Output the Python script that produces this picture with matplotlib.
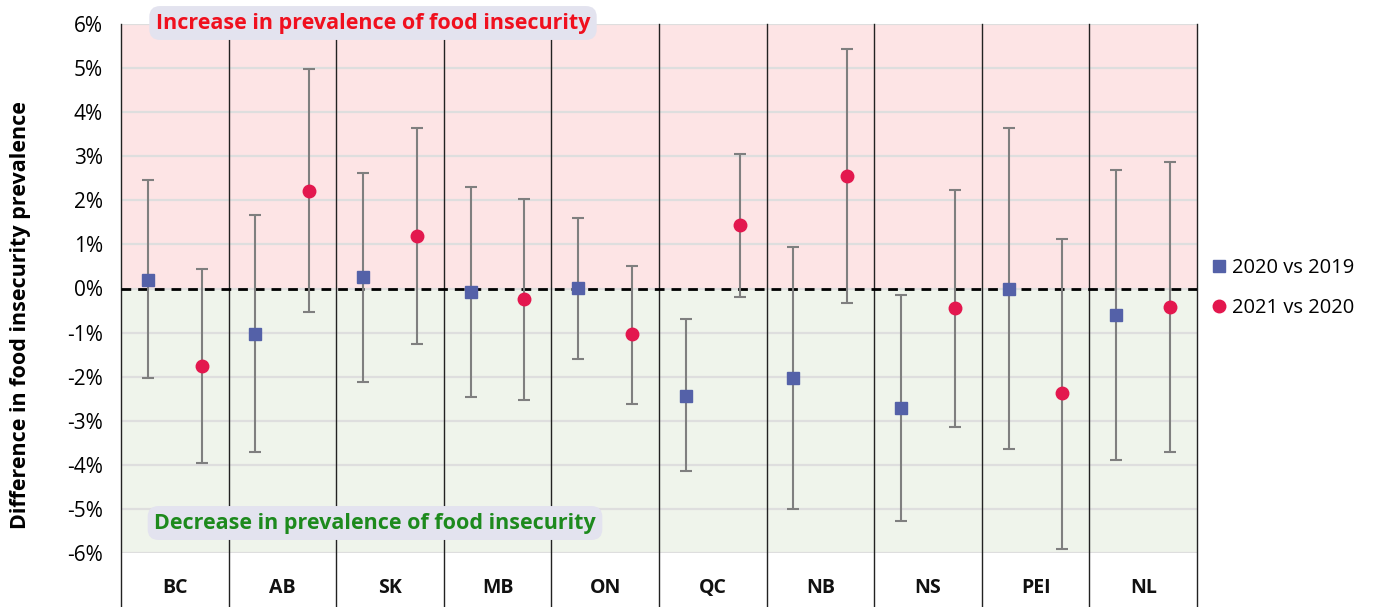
import matplotlib.pyplot as plt
from matplotlib.lines import Line2D
from matplotlib.transforms import blended_transform_factory
import numpy as np

plt.rcParams['font.family'] = ['Open Sans', 'DejaVu Sans']

provinces = ['BC', 'AB', 'SK', 'MB', 'ON', 'QC', 'NB', 'NS', 'PEI', 'NL']
# 2020 vs 2019
diff_2020 = [0.20, -1.04, 0.27, -0.09, 0.02, -2.43, -2.04, -2.70, -0.02, -0.61]
low_2020 = [-2.04, -3.72, -2.11, -2.47, -1.59, -4.15, -5.01, -5.28, -3.65, -3.90]
high_2020 = [2.47, 1.66, 2.63, 2.31, 1.61, -0.70, 0.95, -0.14, 3.63, 2.68]
# 2021 vs 2020
diff_2021 = [-1.75, 2.22, 1.18, -0.23, -1.04, 1.43, 2.56, -0.45, -2.38, -0.43]
low_2021 = [-3.95, -0.54, -1.25, -2.52, -2.63, -0.20, -0.32, -3.15, -5.92, -3.72]
high_2021 = [0.45, 4.99, 3.63, 2.04, 0.52, 3.06, 5.44, 2.24, 1.13, 2.86]

blue = '#5461a8'
red = '#e3174e'
grey = '#7f7f7f'

fig = plt.figure(figsize=(13.77, 6.07), dpi=100)
ax = fig.add_axes([121 / 1377, 54 / 607, (1197 - 121) / 1377, 529 / 607])

n = len(provinces)
x = np.arange(n)
ax.set_xlim(-0.5, n - 0.5)
ax.set_ylim(-6, 6)

ax.axhspan(0, 6, color='#fde4e5', zorder=0)
ax.axhspan(-6, 0, color='#eff4eb', zorder=0)
for v in range(-6, 7):
    ax.axhline(v, color='#dedede', lw=1.6, zorder=1)
ax.axhline(0, color='black', lw=2, ls=(0, (3.5, 2.5)), zorder=3)

for b in np.arange(-0.5, n, 1.0):
    ax.axvline(b, ymin=-54 / 529, ymax=1, color='#222222', lw=1, clip_on=False, zorder=2)

d20 = np.array(diff_2020)
d21 = np.array(diff_2021)
ax.errorbar(x - 0.25, d20, yerr=[d20 - np.array(low_2020), np.array(high_2020) - d20],
            fmt='none', ecolor=grey, elinewidth=1.5, capsize=4, capthick=1.5, zorder=4)
ax.errorbar(x + 0.25, d21, yerr=[d21 - np.array(low_2021), np.array(high_2021) - d21],
            fmt='none', ecolor=grey, elinewidth=1.5, capsize=4, capthick=1.5, zorder=4)
ax.plot(x - 0.25, d20, 's', color=blue, ms=9, ls='none', zorder=5)
ax.plot(x + 0.25, d21, 'o', color=red, ms=9, ls='none', zorder=5)

ax.set_xticks([])
ax.set_yticks(range(-6, 7))
ax.set_yticklabels(['-%d%%' % -v if v < 0 else '%d%%' % v for v in range(-6, 7)], fontsize=15)
ax.tick_params(axis='y', length=0, pad=13)
for s in ax.spines.values():
    s.set_visible(False)

trans = blended_transform_factory(ax.transData, ax.transAxes)
for i, p in enumerate(provinces):
    ax.text(i, -0.066, p, transform=trans, ha='center', va='center',
            fontsize=14, fontweight='bold', color='#111111')

ax.set_ylabel('Difference in food insecurity prevalence', fontsize=15.5,
              fontweight='bold', labelpad=0)
ax.yaxis.set_label_coords(-90 / 1076, 0.45)

box = dict(boxstyle='round,pad=0.3,rounding_size=0.5', fc='#e3e3ef', ec='none')
fig.text(373 / 1377, 1 - 23 / 607, 'Increase in prevalence of food insecurity',
         ha='center', va='center', fontsize=15.5, fontweight='bold', color='#f0101e',
         bbox=box, zorder=10)
fig.text(375 / 1377, 1 - 523 / 607, 'Decrease in prevalence of food insecurity',
         ha='center', va='center', fontsize=15.5, fontweight='bold', color='#1d8a1d',
         bbox=box, zorder=10)

handles = [Line2D([], [], marker='s', color=blue, ls='none', ms=9),
           Line2D([], [], marker='o', color=red, ls='none', ms=9)]
fig.legend(handles, ['2020 vs 2019', '2021 vs 2020'], loc='center left',
           bbox_to_anchor=(1211 / 1377, 1 - 288 / 607), frameon=False,
           fontsize=14.5, handlelength=0.8, handletextpad=0.25, labelspacing=1.0,
           borderaxespad=0, borderpad=0)

fig.savefig('out.png', dpi=100)
